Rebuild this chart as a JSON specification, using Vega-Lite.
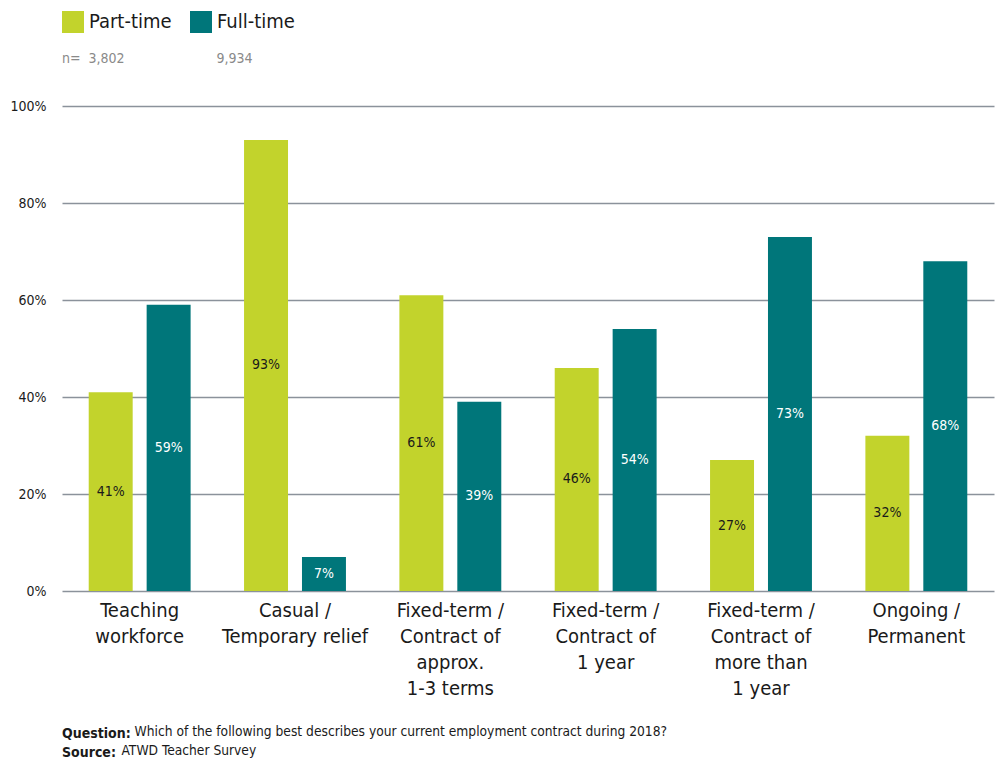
{
  "$schema": "https://vega.github.io/schema/vega-lite/v6.json",
  "width": 932,
  "height": 485,
  "autosize": {"type": "none"},
  "padding": {"left": 62, "top": 106, "right": 13, "bottom": 169},
  "background": "white",
  "title": {
    "text": "Question:",
    "subtitle": "Source:",
    "orient": "bottom",
    "anchor": "start",
    "frame": "group",
    "offset": -30,
    "fontSize": 14,
    "fontWeight": "bold",
    "color": "#1a1a1a",
    "subtitleFontSize": 14,
    "subtitleFontWeight": "bold",
    "subtitleColor": "#1a1a1a",
    "subtitlePadding": 5
  },
  "data": {
    "values": [
      {"category": "Teaching|workforce", "series": "Part-time", "share": 0.41},
      {"category": "Teaching|workforce", "series": "Full-time", "share": 0.59},
      {"category": "Casual /|Temporary relief", "series": "Part-time", "share": 0.93},
      {"category": "Casual /|Temporary relief", "series": "Full-time", "share": 0.07},
      {"category": "Fixed-term /|Contract of|approx.|1-3 terms", "series": "Part-time", "share": 0.61},
      {"category": "Fixed-term /|Contract of|approx.|1-3 terms", "series": "Full-time", "share": 0.39},
      {"category": "Fixed-term /|Contract of|1 year", "series": "Part-time", "share": 0.46},
      {"category": "Fixed-term /|Contract of|1 year", "series": "Full-time", "share": 0.54},
      {"category": "Fixed-term /|Contract of|more than|1 year", "series": "Part-time", "share": 0.27},
      {"category": "Fixed-term /|Contract of|more than|1 year", "series": "Full-time", "share": 0.73},
      {"category": "Ongoing /|Permanent", "series": "Part-time", "share": 0.32},
      {"category": "Ongoing /|Permanent", "series": "Full-time", "share": 0.68}
    ]
  },
  "encoding": {
    "x": {
      "field": "category",
      "type": "nominal",
      "sort": null,
      "scale": {"paddingInner": 0.344, "paddingOuter": 0.172},
      "axis": {
        "title": "Which of the following best describes your current employment contract during 2018?",
        "titleX": 72,
        "titleY": 140,
        "titleAlign": "left",
        "titleAnchor": null,
        "titleBaseline": "middle",
        "titleFontSize": 13.7,
        "titleFontWeight": "normal",
        "titleColor": "#1a1a1a",
        "labelExpr": "split(datum.label, '|')",
        "labelAngle": 0,
        "labelFontSize": 20,
        "labelColor": "#1a1a1a",
        "labelLineHeight": 26,
        "labelPadding": 9,
        "labelLimit": 200,
        "domain": false,
        "ticks": false,
        "grid": false
      }
    },
    "xOffset": {
      "field": "series",
      "type": "nominal",
      "sort": ["Part-time", "Full-time"],
      "scale": {"paddingInner": 0.241, "paddingOuter": 0}
    }
  },
  "layer": [
    {
      "mark": {"type": "bar"},
      "encoding": {
        "y": {
          "field": "share",
          "type": "quantitative",
          "scale": {"domain": [0, 1]},
          "axis": {
            "values": [0, 0.2, 0.4, 0.6, 0.8, 1],
            "format": ".0%",
            "title": "ATWD Teacher Survey",
            "titleAngle": 0,
            "titleX": 59,
            "titleY": 644,
            "titleAlign": "left",
            "titleBaseline": "middle",
            "titleFontSize": 13.7,
            "titleFontWeight": "normal",
            "titleColor": "#1a1a1a",
            "labelFontSize": 14,
            "labelColor": "#1a1a1a",
            "labelPadding": 16,
            "domain": false,
            "ticks": false,
            "grid": true,
            "gridColor": "#8b929b",
            "gridWidth": 1.3
          }
        },
        "color": {
          "field": "series",
          "type": "nominal",
          "scale": {"domain": ["Part-time", "Full-time"], "range": ["#c2d32c", "#00767a"]},
          "legend": {
            "orient": "none",
            "legendX": 0,
            "legendY": -95,
            "direction": "horizontal",
            "symbolType": "square",
            "symbolSize": 484,
            "symbolStrokeWidth": 0,
            "symbolOpacity": 1,
            "labelFontSize": 20,
            "labelColor": "#1a1a1a",
            "labelOffset": 5,
            "columnPadding": 18,
            "title": "n=\u00a0\u00a03,802\u00a0\u00a0\u00a0\u00a0\u00a0\u00a0\u00a0\u00a0\u00a0\u00a0\u00a0\u00a0\u00a0\u00a0\u00a0\u00a0\u00a0\u00a0\u00a0\u00a0\u00a0\u00a0\u00a09,934",
            "titleLimit": 400,
            "titleOrient": "bottom",
            "titleAnchor": "start",
            "titleFontSize": 14,
            "titleFontWeight": "normal",
            "titleColor": "#8a8a8a",
            "titlePadding": 19
          }
        }
      }
    },
    {
      "mark": {"type": "text", "fontSize": 14, "baseline": "middle"},
      "encoding": {
        "y": {
          "field": "share",
          "type": "quantitative",
          "scale": {"domain": [0, 2]},
          "axis": null
        },
        "text": {"field": "share", "type": "quantitative", "format": ".0%"},
        "color": {
          "condition": {"test": "datum.series === 'Full-time'", "value": "#ffffff"},
          "value": "#1a1a1a"
        }
      }
    }
  ],
  "resolve": {"scale": {"y": "independent"}},
  "config": {
    "font": "Liberation Sans Narrow, DejaVu Sans Condensed, Roboto Condensed, Roboto, sans-serif",
    "view": {"stroke": null}
  }
}
